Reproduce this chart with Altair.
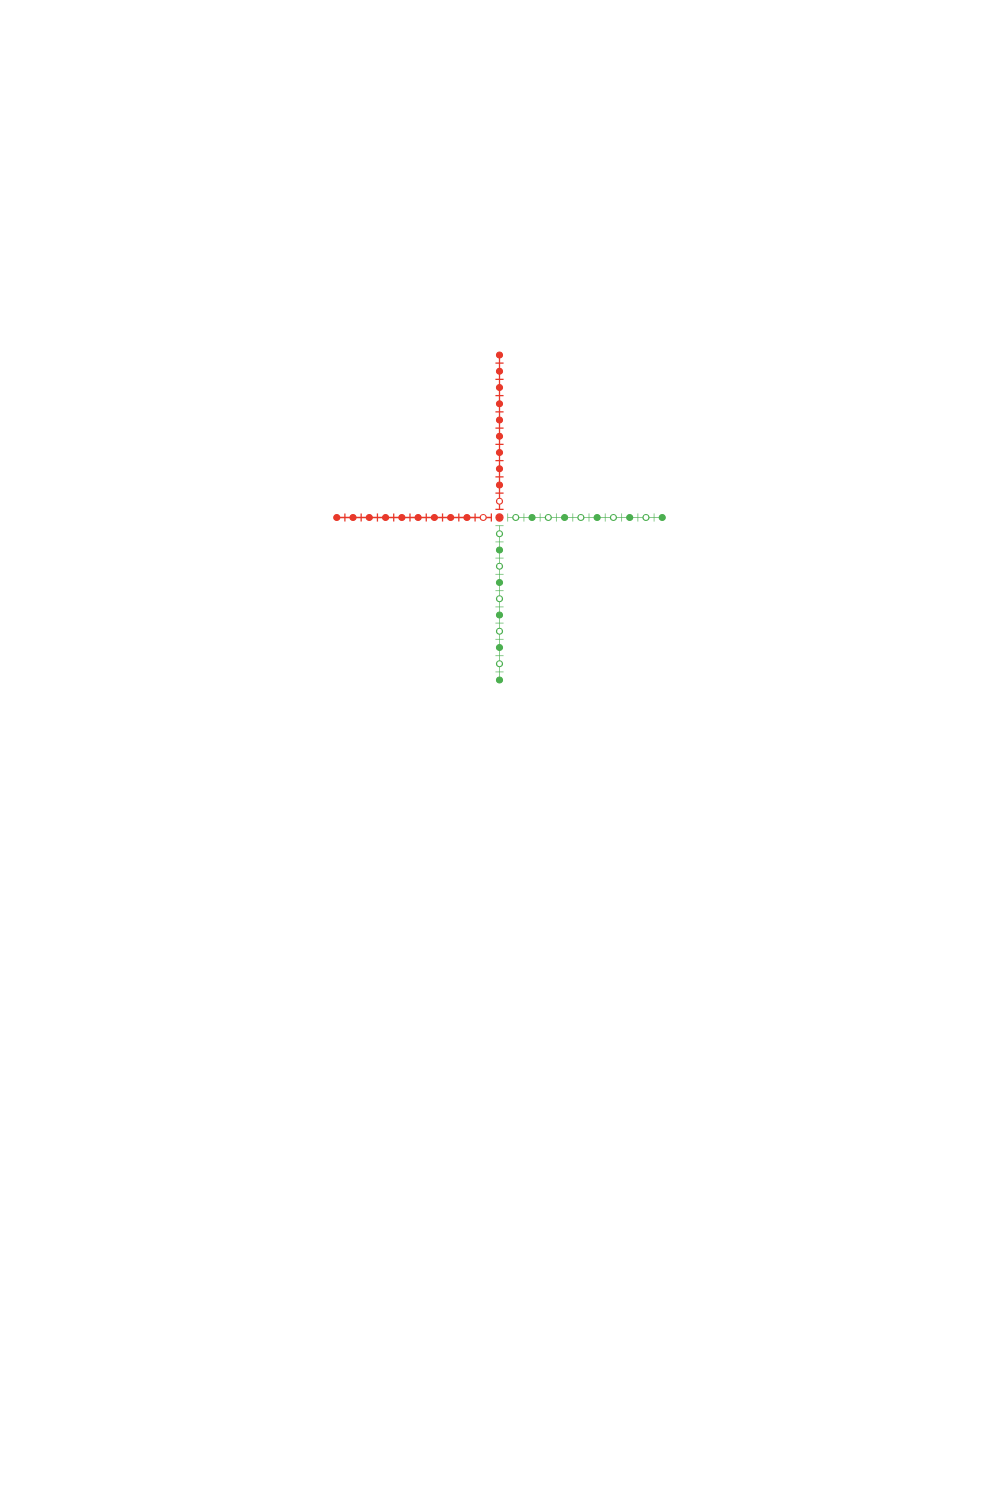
import altair as alt
import pandas as pd

# ---- data ----
steps = [1, 2, 3, 4, 5, 6, 7, 8, 9, 10]
red_up_filled = [0, 1, 1, 1, 1, 1, 1, 1, 1, 1]
red_left_filled = [0, 1, 1, 1, 1, 1, 1, 1, 1, 1]
green_right_filled = [0, 1, 0, 1, 0, 1, 0, 1, 0, 1]
green_down_filled = [0, 1, 0, 1, 0, 1, 0, 1, 0, 1]
tick_positions = [0.5, 1.5, 2.5, 3.5, 4.5, 5.5, 6.5, 7.5, 8.5, 9.5]
arm_start = 0.5
arm_end = 10

RED = "#e8392b"
GREEN = "#4caf50"
WHITE = "#ffffff"

# arms: (name, dx, dy, color, filled flags)
arms = [
    ("up", 0, 1, RED, red_up_filled),
    ("left", -1, 0, RED, red_left_filled),
    ("right", 1, 0, GREEN, green_right_filled),
    ("down", 0, -1, GREEN, green_down_filled),
]

pts = []
rules = []
for name, dx, dy, col, flags in arms:
    lw = 1.3 if col == RED else 1.0
    op = 1.0 if col == RED else 0.65
    rules.append(dict(x=dx * arm_start, y=dy * arm_start, x2=dx * arm_end, y2=dy * arm_end,
                      c=col, w=lw, o=op))
    for t in tick_positions:
        if dx != 0:
            rules.append(dict(x=dx * t, y=-0.25, x2=dx * t, y2=0.25, c=col, w=lw, o=op))
        else:
            rules.append(dict(x=-0.25, y=dy * t, x2=0.25, y2=dy * t, c=col, w=lw, o=op))
    for k, f in zip(steps, flags):
        pts.append(dict(x=dx * k, y=dy * k, s=col, f=col if f else WHITE, size=36))
# centre point
pts.append(dict(x=0, y=0, s=RED, f=RED, size=50))

pts_df = pd.DataFrame(pts)
rules_df = pd.DataFrame(rules)

xs = alt.Scale(domain=[-30.2, 30.2], nice=False, zero=False)
ys = alt.Scale(domain=[-31.35, 31.35], nice=False, zero=False)

rule_layer = alt.Chart(rules_df).mark_rule().encode(
    x=alt.X("x:Q", scale=xs, axis=None),
    y=alt.Y("y:Q", scale=ys, axis=None),
    x2="x2:Q",
    y2="y2:Q",
    color=alt.Color("c:N", scale=None),
    strokeWidth=alt.StrokeWidth("w:Q", scale=None),
    opacity=alt.Opacity("o:Q", scale=None),
)

point_layer = alt.Chart(pts_df).mark_circle(strokeWidth=1.2, opacity=1).encode(
    x=alt.X("x:Q", scale=xs, axis=None),
    y=alt.Y("y:Q", scale=ys, axis=None),
    fill=alt.Fill("f:N", scale=None),
    stroke=alt.Stroke("s:N", scale=None),
    size=alt.Size("size:Q", scale=None),
)

chart = (
    alt.layer(rule_layer, point_layer)
    .properties(width=983, height=1019, autosize="none", padding=0)
    .configure_view(stroke=None)
)

chart.save("out.html", embed_options={"renderer": "svg", "actions": False})
